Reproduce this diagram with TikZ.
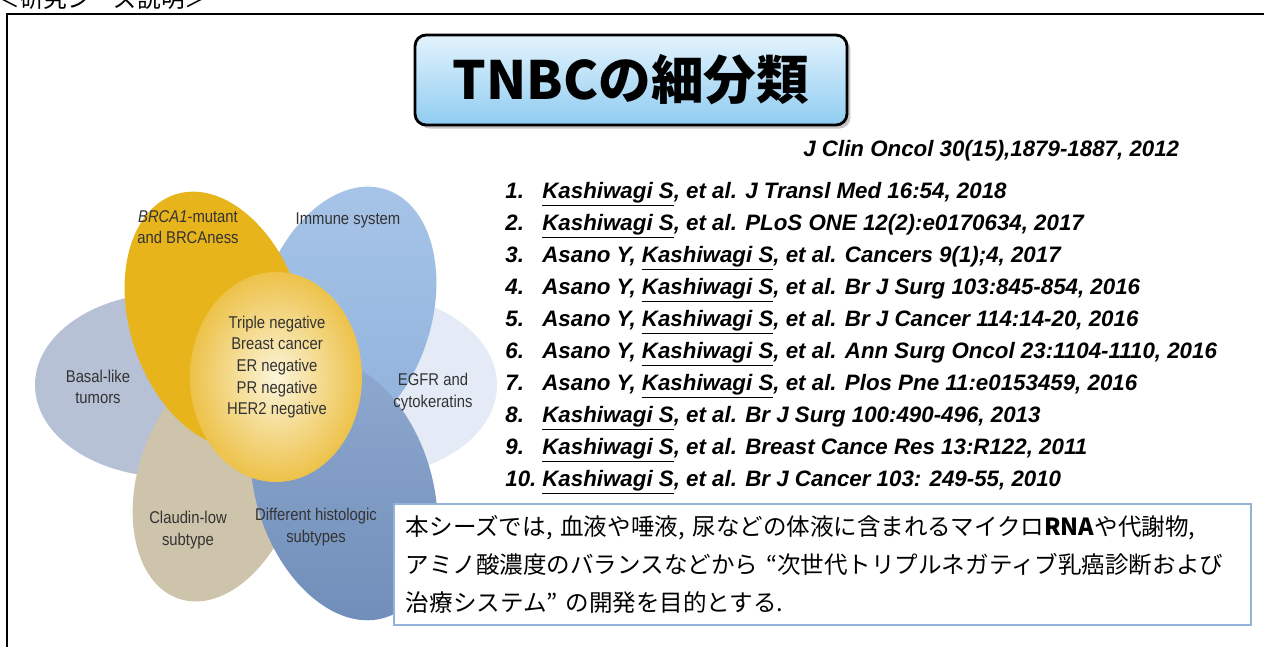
\documentclass[tikz,border=0pt]{standalone}
\usepackage{fontspec}
\setmainfont{Liberation Sans}
\newfontfamily\jpfont{Noto Sans CJK JP}
\newfontfamily\petalfont[FakeStretch=0.87]{Liberation Sans}
\usepackage{xcolor}
\usetikzlibrary{positioning,shadows}
\definecolor{Basal}{HTML}{B6C1D5}
\definecolor{Egfr}{HTML}{E4EBF6}
\definecolor{Claudin}{HTML}{CEC4AC}
\definecolor{ImmuneA}{HTML}{A8C5E8}
\definecolor{ImmuneB}{HTML}{8DB0DB}
\definecolor{Brca}{HTML}{E8B41C}
\definecolor{HistoA}{HTML}{8EA9CF}
\definecolor{HistoB}{HTML}{6F8DB9}
\definecolor{CoreIn}{HTML}{FCF5DA}
\definecolor{CoreOut}{HTML}{EDC24A}
\definecolor{PetalText}{HTML}{333333}
\definecolor{TitleTop}{HTML}{E3F3FD}
\definecolor{TitleBot}{HTML}{8FCCF1}
\definecolor{NoteEdge}{HTML}{95B3D7}
\newcommand{\kauthor}{\underline{Kashiwagi S}}

\begin{document}
\begin{tikzpicture}[x=0.02cm,y=-0.02cm,
  petal/.style={font=\petalfont\fontsize{9.7}{12.3}\selectfont,text=PetalText,align=center,inner sep=0pt},
  refline/.style={font=\bfseries\itshape\fontsize{12.7}{14}\selectfont,anchor=base west,inner sep=0pt},
  titlebox/.style={draw=black,line width=1.6pt,rounded corners=0.22cm,top color=TitleTop,bottom color=TitleBot,
    minimum width=8.64cm,minimum height=1.8cm,font=\jpfont\bfseries\fontsize{30}{30}\selectfont,
    drop shadow={opacity=0.45,shadow xshift=2pt,shadow yshift=-2pt}},
  notebox/.style={draw=NoteEdge,line width=1.1pt,fill=white,minimum width=17.14cm,minimum height=2.42cm,
    text width=16.66cm,inner xsep=0.24cm,inner ysep=0pt,align=left,font=\jpfont\fontsize{13.4}{21.5}\selectfont}]
  \useasboundingbox (0,0) rectangle (1264,646);
  \fill[white] (0,0) rectangle (1264,646);
  \begin{scope}
  \clip (0,0) rectangle (1264,646);
  % heading cut off by the page
  \node[font=\jpfont\fontsize{13.5}{14}\selectfont,anchor=base west,inner sep=0pt] (head) at (-4,7) {＜研究シーズ説明＞};
  \draw[line width=1.2pt] (7,700) |- (1300,14);
  \end{scope}
  % petals
  \fill[Basal] (170,385) ellipse [x radius=135,y radius=92];
  \fill[Egfr] (362,385) ellipse [x radius=135,y radius=92];
  \fill[Claudin,rotate around={72:(218,480)}] (218,480) ellipse [x radius=125,y radius=80];
  \shade[top color=ImmuneA,bottom color=ImmuneB,rotate around={72:(345,315)}] (345,315) ellipse [x radius=132,y radius=86];
  \fill[Brca,rotate around={-72:(216,320)}] (216,320) ellipse [x radius=132,y radius=86];
  \shade[top color=HistoA,bottom color=HistoB,rotate around={-72:(344,489)}] (344,489) ellipse [x radius=135,y radius=88];
  \shade[inner color=CoreIn,outer color=CoreOut] (276,377) ellipse [x radius=86,y radius=105];
  \node[petal] (brca) at (188,227) {\textit{BRCA1}-mutant\\and BRCAness};
  \node[petal] (immune) at (348,220) {Immune system};
  \node[petal] (basal) at (98,387) {Basal-like\\tumors};
  \node[petal] (egfr) at (433,392) {EGFR and\\cytokeratins};
  \node[petal] (claudin) at (188,530) {Claudin-low\\subtype};
  \node[petal] (histo) at (316,527) {Different histologic\\subtypes};
  \node[petal] (core) at (277,367) {Triple negative\\Breast cancer\\ER negative\\PR negative\\HER2 negative};
  % title
  \node[titlebox] (title) at (631,80) {TNBCの細分類};
  % references
  \node[refline] (jco) at (803,156) {J Clin Oncol 30(15),1879-1887, 2012};
  \foreach \idx/\entry in {1/{\kauthor, et al. J Transl Med 16:54, 2018},
      2/{\kauthor, et al. PLoS ONE 12(2):e0170634, 2017},
      3/{Asano Y, \kauthor, et al. Cancers 9(1);4, 2017},
      4/{Asano Y, \kauthor, et al. Br J Surg 103:845-854, 2016},
      5/{Asano Y, \kauthor, et al. Br J Cancer 114:14-20, 2016},
      6/{Asano Y, \kauthor, et al. Ann Surg Oncol 23:1104-1110, 2016},
      7/{Asano Y, \kauthor, et al. Plos Pne 11:e0153459, 2016},
      8/{\kauthor, et al. Br J Surg 100:490-496, 2013},
      9/{\kauthor, et al. Breast Cance Res 13:R122, 2011},
      10/{\kauthor, et al. Br J Cancer 103: 249-55, 2010}}{
    \node[refline] (num\idx) at (505,{198+32*(\idx-1)}) {\idx.};
    \node[refline] (ref\idx) at (542,{198+32*(\idx-1)}) {\entry};
  }
  % summary box
  \node[notebox,anchor=north west] (note) at (393,503) {本シーズでは, 血液や唾液, 尿などの体液に含まれるマイクロ{\bfseries RNA}や代謝物,\\アミノ酸濃度のバランスなどから “次世代トリプルネガティブ乳癌診断および\\治療システム” の開発を目的とする.};
\end{tikzpicture}
\end{document}
